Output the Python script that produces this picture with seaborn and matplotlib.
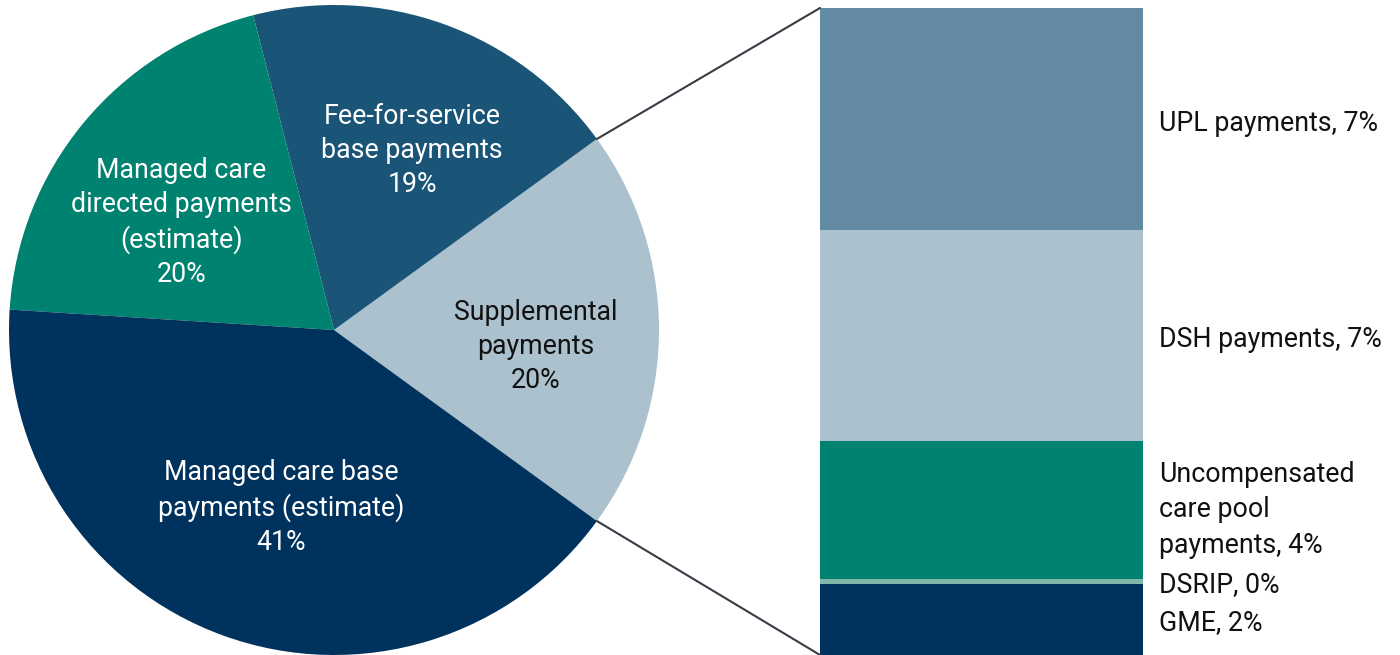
import numpy as np
import pandas as pd
import matplotlib
matplotlib.use("Agg")
import matplotlib.pyplot as plt
from matplotlib.patches import ConnectionPatch
import seaborn as sns

# --- data ---
pie_labels = ["Supplemental\npayments\n20%",
              "Fee-for-service\nbase payments\n19%",
              "Managed care\ndirected payments\n(estimate)\n20%",
              "Managed care base\npayments (estimate)\n41%"]
pie_values = [20, 19, 20, 41]
pie_colors = ["#abc1ce", "#1a5577", "#008270", "#00325e"]
pie_text_colors = ["#111111", "white", "white", "white"]
pie_text_pos = [(0.62, -0.05), (0.24, 0.552), (-0.47, 0.332), (-0.163, -0.545)]

# supplemental breakdown, bottom to top
bar_labels = ["GME, 2%", "DSRIP, 0%", "Uncompensated\ncare pool\npayments, 4%",
              "DSH payments, 7%", "UPL payments, 7%"]
bar_values = [2.2, 0.15, 4.25, 6.55, 6.85]
bar_colors = ["#00325e", "#7fb8ab", "#008270", "#abc1ce", "#628aa3"]
bar_label_y = [0.99, 2.17, 4.49, 9.76, 16.44]

sns.set_theme(style="white")
plt.rcParams['font.family'] = ['Roboto', 'DejaVu Sans']

fig = plt.figure(figsize=(14, 6.55), dpi=100)

# --- pie ---
ax_pie = fig.add_axes([9 / 1400, 0, 650 / 1400, 650 / 655])
wedges, _ = ax_pie.pie(pie_values, colors=pie_colors, startangle=-36,
                       counterclock=True, radius=1,
                       wedgeprops=dict(linewidth=0))
ax_pie.set_xlim(-1, 1)
ax_pie.set_ylim(-1, 1)
ax_pie.set_aspect("equal")
ax_pie.axis("off")
for lab, col, (x, y) in zip(pie_labels, pie_text_colors, pie_text_pos):
    ax_pie.text(x, y, lab, ha="center", va="center", color=col,
                fontsize=19.3, linespacing=1.33)

# --- stacked bar (cumulative bars drawn largest first) ---
ax_bar = fig.add_axes([820 / 1400, 0, 323 / 1400, 647 / 655])
cum = np.cumsum(bar_values)
df = pd.DataFrame({"x": ["s"] * len(cum), "cum": cum})
for i in range(len(cum) - 1, -1, -1):
    sns.barplot(data=df.iloc[[i]], x="x", y="cum", color=bar_colors[i],
                width=1, saturation=1, ax=ax_bar, linewidth=0)
ax_bar.set_xlim(-0.5, 0.5)
ax_bar.set_ylim(0, cum[-1])
ax_bar.axis("off")

for lab, y in zip(bar_labels, bar_label_y):
    ax_bar.text(0.55, y, lab, ha="left", va="center", fontsize=19.3,
                color="#111111", linespacing=1.4, clip_on=False)

# --- connector lines ---
theta1 = np.deg2rad(wedges[0].theta1)
theta2 = np.deg2rad(wedges[0].theta2)
for th, yb in [(theta2, cum[-1]), (theta1, 0)]:
    con = ConnectionPatch(xyA=(np.cos(th), np.sin(th)), coordsA=ax_pie.transData,
                          xyB=(-0.5, yb), coordsB=ax_bar.transData,
                          color="#3a3a45", linewidth=1.5)
    fig.add_artist(con)

fig.savefig("out.png", dpi=100)
